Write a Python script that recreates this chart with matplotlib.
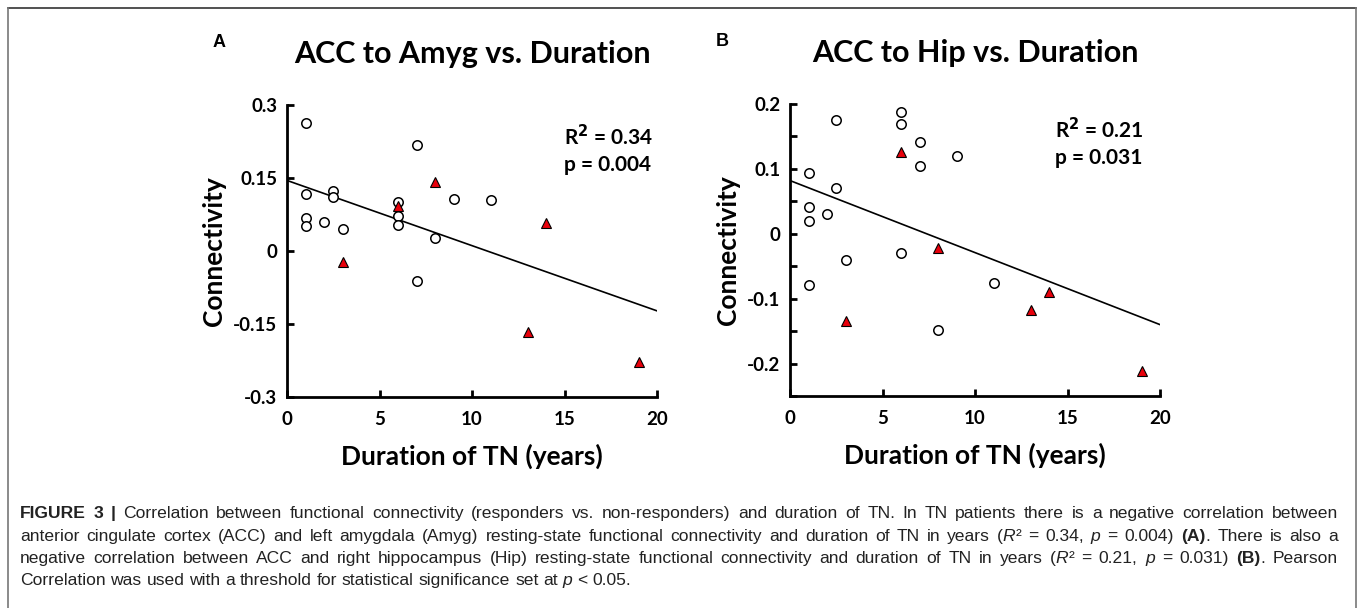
import matplotlib
matplotlib.use("Agg")
import matplotlib.pyplot as plt
import numpy as np

# durations (years) for non-responders (circles) and responders (triangles)
circ_x = [1, 1, 1, 1, 2, 2.5, 2.5, 3, 6, 6, 6, 7, 7, 8, 9, 11]
tri_x = [3, 6, 8, 13, 14, 19]

# panel A: ACC to Amyg connectivity
amyg_circ = [0.263, 0.117, 0.068, 0.052, 0.060, 0.124, 0.110, 0.046,
             0.100, 0.072, 0.054, 0.218, -0.061, 0.027, 0.106, 0.104]
amyg_tri = [-0.022, 0.092, 0.141, -0.166, 0.057, -0.228]
amyg_fit = (0.145, -0.0134)   # intercept, slope

# panel B: ACC to Hip connectivity
hip_circ = [0.093, 0.041, 0.020, -0.079, 0.030, 0.176, 0.070, -0.040,
            0.187, 0.169, -0.029, 0.142, 0.104, -0.149, 0.120, -0.076]
hip_tri = [-0.135, 0.126, -0.022, -0.118, -0.090, -0.212]
hip_fit = (0.082, -0.0111)

chart_font = "Lato"
plt.rcParams["font.family"] = [chart_font, "DejaVu Sans"]
plt.rcParams["font.weight"] = "bold"
plt.rcParams["axes.labelweight"] = "bold"
plt.rcParams["axes.titleweight"] = "bold"
plt.rcParams["mathtext.default"] = "bf"

W, H = 1360, 608
fig = plt.figure(figsize=(W / 100, H / 100), dpi=100)

# frame around the figure panel
fig.add_artist(plt.Line2D([8 / W, 1356 / W], [1 - 8 / H, 1 - 8 / H],
                          transform=fig.transFigure, color="#333333", lw=1.2))
for xx in (8, 1356):
    fig.add_artist(plt.Line2D([xx / W, xx / W], [0, 1 - 8 / H],
                              transform=fig.transFigure, color="#777777", lw=1.2))


def panel(rect, letter, title, cx, cy, tx, ty, fit, ylim, yticks, ylabels,
          stats, stat_pos):
    ax = fig.add_axes(rect)
    xs = np.array([0, 20])
    ax.plot(xs, fit[0] + fit[1] * xs, color="black", lw=1.2, zorder=2)
    ax.plot(cx, cy, "o", ms=6.8, mfc="white", mec="black", mew=1.1,
            ls="none", zorder=3)
    ax.plot(tx, ty, "^", ms=7.5, mfc="#e8000b", mec="black", mew=0.8,
            ls="none", zorder=3)
    ax.set_xlim(0, 20)
    ax.set_ylim(*ylim)
    for s in ("top", "right"):
        ax.spines[s].set_visible(False)
    for s in ("left", "bottom"):
        ax.spines[s].set_linewidth(2.0)
    ax.tick_params(direction="in", length=5, width=2.0)
    ax.tick_params(axis="x", pad=10)
    ax.tick_params(axis="y", pad=7)
    xt = [0, 5, 10, 15, 20]
    ax.set_xticks(xt, [str(v) for v in xt], fontsize=13.5, fontweight="bold")
    ax.set_yticks(yticks, ylabels, fontsize=13.5, fontweight="bold")
    ax.set_xlabel("Duration of TN (years)", fontsize=19, labelpad=11)
    ax.set_ylabel("Connectivity", fontsize=19, labelpad=5)
    ax.set_title(title, fontsize=22, pad=30)
    ax.text(-0.20, 1.215, letter, transform=ax.transAxes, fontsize=13,
            fontfamily="Liberation Sans", va="center")
    ax.text(stat_pos[0], stat_pos[1], stats, transform=ax.transAxes,
            fontsize=15, va="top", linespacing=1.35)
    return ax


panel([287 / W, 1 - 397 / H, 370 / W, 292 / H], "A",
      "ACC to Amyg vs. Duration", circ_x, amyg_circ, tri_x, amyg_tri,
      amyg_fit, (-0.3, 0.3), [-0.3, -0.15, 0, 0.15, 0.3],
      ["-0.3", "-0.15", "0", "0.15", "0.3"],
      "R$^2$ = 0.34\np = 0.004", (0.748, 0.935))

panel([790 / W, 1 - 396 / H, 370 / W, 292 / H], "B",
      "ACC to Hip vs. Duration", circ_x, hip_circ, tri_x, hip_tri,
      hip_fit, (-0.25, 0.2),
      [-0.25, -0.2, -0.15, -0.1, -0.05, 0, 0.05, 0.1, 0.15, 0.2],
      ["", "-0.2", "", "-0.1", "", "0", "", "0.1", "", "0.2"],
      "R$^2$ = 0.21\np = 0.031", (0.715, 0.955))

# caption, justified like the journal layout
cap_font = "Liberation Sans"
cap_size = 12.6
cap_lines = [
    [("FIGURE 3 |", "bold", "normal"),
     (" Correlation between functional connectivity (responders vs. non-responders) and duration of TN. "
      "In TN patients there is a negative correlation between", "normal", "normal")],
    [("anterior cingulate cortex (ACC) and left amygdala (Amyg) resting-state functional connectivity "
      "and duration of TN in years (", "normal", "normal"),
     ("R", "normal", "italic"), ("\u00b2 = 0.34, ", "normal", "normal"),
     ("p", "normal", "italic"), (" = 0.004) ", "normal", "normal"),
     ("(A)", "bold", "normal"), (". There is also a", "normal", "normal")],
    [("negative correlation between ACC and right hippocampus (Hip) resting-state functional connectivity "
      "and duration of TN in years (", "normal", "normal"),
     ("R", "normal", "italic"), ("\u00b2 = 0.21, ", "normal", "normal"),
     ("p", "normal", "italic"), (" = 0.031) ", "normal", "normal"),
     ("(B)", "bold", "normal"), (". Pearson", "normal", "normal")],
    [("Correlation was used with a threshold for statistical significance set at ", "normal", "normal"),
     ("p", "normal", "italic"), (" < 0.05.", "normal", "normal")],
]
cap_base = [518, 541, 563, 585]   # baselines in pixels from the top
cap_left, cap_right = 20, 1338

fig.canvas.draw()
renderer = fig.canvas.get_renderer()


def width_of(txt, wt, st):
    t = fig.text(0, 0, txt, fontsize=cap_size, fontweight=wt, fontstyle=st,
                 fontfamily=cap_font)
    w = t.get_window_extent(renderer=renderer).width
    t.remove()
    return w


space_w = width_of("a a", "normal", "normal") - width_of("aa", "normal", "normal")

for li, (line, yy) in enumerate(zip(cap_lines, cap_base)):
    pieces = []
    pending = False
    for txt, wt, st in line:
        for i, p in enumerate(txt.split(" ")):
            if i > 0:
                pending = True
            if p == "":
                continue
            pieces.append((p, wt, st, pending, width_of(p, wt, st)))
            pending = False
    gaps = sum(1 for pc in pieces if pc[3])
    natural = sum(pc[4] for pc in pieces) + gaps * space_w
    gap_w = space_w
    if li < len(cap_lines) - 1 and gaps:
        gap_w = space_w + (cap_right - cap_left - natural) / gaps
    x0 = cap_left
    for p, wt, st, sp, w in pieces:
        if sp:
            x0 += gap_w
        fig.text(x0 / W, 1 - yy / H, p, fontsize=cap_size, fontweight=wt,
                 fontstyle=st, fontfamily=cap_font, va="baseline",
                 color="#222222")
        x0 += w

fig.savefig("out.png", dpi=100)
